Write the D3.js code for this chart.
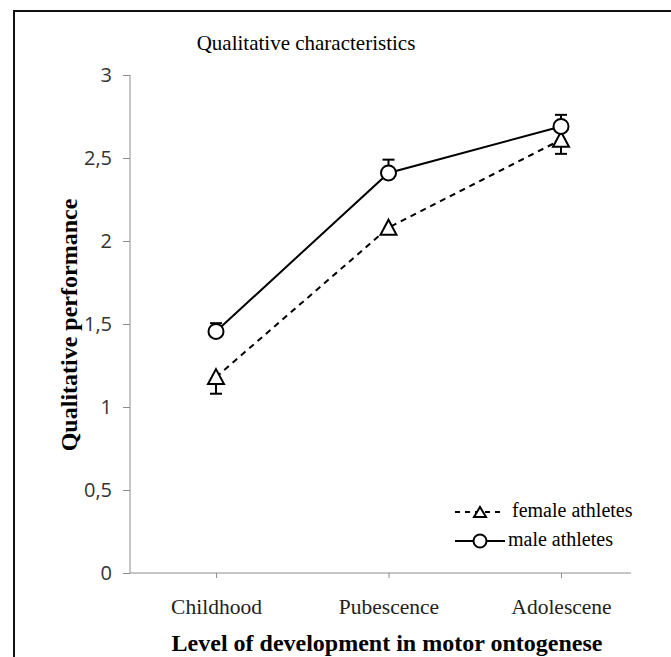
<!DOCTYPE html>
<html>
<head>
<meta charset="utf-8">
<script src="https://cdn.jsdelivr.net/npm/d3@7"></script>
<style>
  body { margin: 0; background: #fff; }
</style>
</head>
<body>
<script>
// chart data
var categories = ["Childhood", "Pubescence", "Adolescene"];
var femaleValues = [1.18, 2.08, 2.61];
var femaleErr = [0.1, 0.03, 0.085];
var maleValues = [1.455, 2.41, 2.69];
var maleErr = [0.05, 0.08, 0.07];
var yTicks = [0, 0.5, 1, 1.5, 2, 2.5, 3];

var svgWidth = 671, svgHeight = 657;
var margin = {top: 75, left: 130};
var width = 501, height = 498;

var svg = d3.select("body").append("svg")
  .attr("width", svgWidth)
  .attr("height", svgHeight);

// outer frame (runs off the right and bottom edges)
svg.append("rect")
  .attr("x", 14).attr("y", 11)
  .attr("width", 700).attr("height", 700)
  .attr("fill", "none")
  .attr("stroke", "#111")
  .attr("stroke-width", 2);

var chartGroup = svg.append("g")
  .attr("transform", "translate(" + margin.left + "," + margin.top + ")");

var x = d3.scalePoint().domain(categories).range([86, 431]);
var y = d3.scaleLinear().domain([0, 3]).range([height, 0]);
var cx = function(i) { return x(categories[i]); };

// y axis
var yAxis = chartGroup.append("g")
  .call(d3.axisLeft(y).tickValues(yTicks).tickSize(7).tickPadding(11)
    .tickFormat(function(d) { return String(d).replace(".", ","); }));
yAxis.select(".domain").attr("stroke", "#8c8c8c").attr("d", "M0,0V" + height);
yAxis.selectAll("line").attr("stroke", "#8c8c8c");
yAxis.selectAll("text")
  .style("font-family", "'Open Sans', 'DejaVu Sans', sans-serif")
  .style("font-size", "20px")
  .attr("fill", "#333");

// x axis
var xAxis = chartGroup.append("g")
  .attr("transform", "translate(0," + height + ")")
  .call(d3.axisBottom(x).tickSize(5).tickPadding(21));
xAxis.select(".domain").attr("stroke", "#8c8c8c").attr("d", "M0,0H" + width);
xAxis.selectAll("line").attr("stroke", "#8c8c8c");
xAxis.selectAll("text")
  .style("font-family", "'Liberation Serif', serif")
  .style("font-size", "21.5px")
  .attr("fill", "#222");

var line = d3.line()
  .x(function(d, i) { return cx(i); })
  .y(function(d) { return y(d); });

// lines
chartGroup.append("path")
  .datum(femaleValues)
  .attr("d", line)
  .attr("fill", "none")
  .attr("stroke", "#000")
  .attr("stroke-width", 2)
  .attr("stroke-dasharray", "6,5");

chartGroup.append("path")
  .datum(maleValues)
  .attr("d", line)
  .attr("fill", "none")
  .attr("stroke", "#000")
  .attr("stroke-width", 2);

// error bars (female minus, male plus)
femaleValues.forEach(function(v, i) {
  var g = chartGroup.append("g").attr("stroke", "#000").attr("stroke-width", 2);
  g.append("line").attr("x1", cx(i)).attr("x2", cx(i))
    .attr("y1", y(v)).attr("y2", y(v - femaleErr[i]));
  g.append("line").attr("x1", cx(i) - 6).attr("x2", cx(i) + 6)
    .attr("y1", y(v - femaleErr[i])).attr("y2", y(v - femaleErr[i]));
});
maleValues.forEach(function(v, i) {
  var g = chartGroup.append("g").attr("stroke", "#000").attr("stroke-width", 2);
  g.append("line").attr("x1", cx(i)).attr("x2", cx(i))
    .attr("y1", y(v)).attr("y2", y(v + maleErr[i]));
  g.append("line").attr("x1", cx(i) - 6).attr("x2", cx(i) + 6)
    .attr("y1", y(v + maleErr[i])).attr("y2", y(v + maleErr[i]));
});

// markers
var tri = "M0,-8L8,7L-8,7Z";
chartGroup.selectAll(".tri")
  .data(femaleValues)
  .enter().append("path")
  .attr("class", "tri")
  .attr("d", tri)
  .attr("transform", function(d, i) { return "translate(" + cx(i) + "," + y(d) + ")"; })
  .attr("fill", "#fff")
  .attr("stroke", "#000")
  .attr("stroke-width", 2);

chartGroup.selectAll(".circ")
  .data(maleValues)
  .enter().append("circle")
  .attr("class", "circ")
  .attr("cx", function(d, i) { return cx(i); })
  .attr("cy", function(d) { return y(d); })
  .attr("r", 7.5)
  .attr("fill", "#fff")
  .attr("stroke", "#000")
  .attr("stroke-width", 2);

// legend
var legend = svg.append("g")
  .style("font-family", "'Liberation Serif', serif")
  .style("font-size", "20px");
var lg1 = legend.append("g").attr("transform", "translate(455,512)");
lg1.append("line").attr("x1", 0).attr("x2", 50).attr("y1", 0).attr("y2", 0)
  .attr("stroke", "#000").attr("stroke-width", 2).attr("stroke-dasharray", "5,5");
lg1.append("path").attr("d", "M0,-5L6,5L-6,5Z").attr("transform", "translate(25,0)")
  .attr("fill", "#fff").attr("stroke", "#000").attr("stroke-width", 2);
lg1.append("text").attr("x", 57).attr("y", 5).text("female athletes");

var lg2 = legend.append("g").attr("transform", "translate(455,541)");
lg2.append("line").attr("x1", 0).attr("x2", 50).attr("y1", 0).attr("y2", 0)
  .attr("stroke", "#000").attr("stroke-width", 2);
lg2.append("circle").attr("cx", 25).attr("cy", 0).attr("r", 6.5)
  .attr("fill", "#fff").attr("stroke", "#000").attr("stroke-width", 2);
lg2.append("text").attr("x", 53).attr("y", 5).text("male athletes");

// title
svg.append("text")
  .attr("x", 306).attr("y", 50)
  .attr("text-anchor", "middle")
  .style("font-family", "'Liberation Serif', serif")
  .style("font-size", "21px")
  .text("Qualitative characteristics");

// axis labels
svg.append("text")
  .attr("x", 387).attr("y", 651)
  .attr("text-anchor", "middle")
  .style("font-family", "'Liberation Serif', serif")
  .style("font-size", "24px")
  .style("font-weight", "bold")
  .text("Level of development in motor ontogenese");

svg.append("text")
  .attr("transform", "translate(77,325) rotate(-90)")
  .attr("text-anchor", "middle")
  .style("font-family", "'Liberation Serif', serif")
  .style("font-size", "24px")
  .style("font-weight", "bold")
  .text("Qualitative performance");
</script>
</body>
</html>
